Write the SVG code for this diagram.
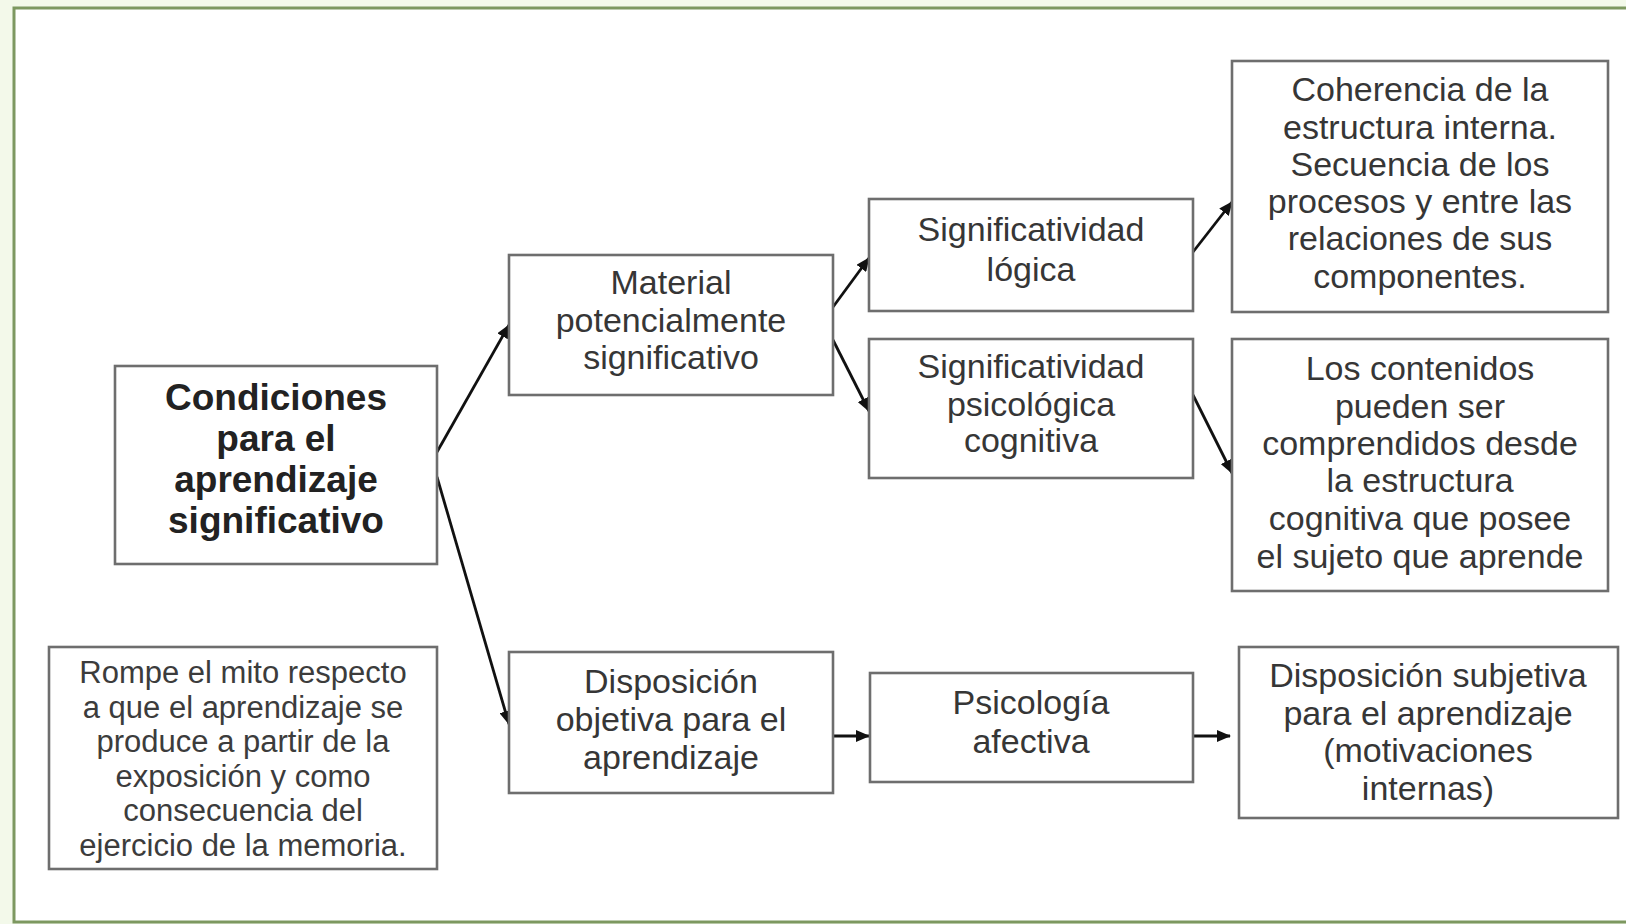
<svg xmlns="http://www.w3.org/2000/svg" width="1626" height="924" viewBox="0 0 1626 924">
<defs>
<style>
.box{fill:#fff;stroke:#6e6e6e;stroke-width:2.6}
.t{font-family:"Liberation Sans",Arial,sans-serif;font-size:34px;fill:#363636;text-anchor:middle}
.tb{font-family:"Liberation Sans",Arial,sans-serif;font-size:37px;font-weight:bold;fill:#222;text-anchor:middle}
.ts{font-family:"Liberation Sans",Arial,sans-serif;font-size:31px;fill:#3c3c3c;text-anchor:middle}
.c{stroke:#111;stroke-width:2.8;fill:none;marker-end:url(#ah)}
</style>
<marker id="ah" markerUnits="userSpaceOnUse" markerWidth="14" markerHeight="12" refX="13" refY="6" orient="auto">
<path d="M0,0 L14,6 L0,12 z" fill="#111"/>
</marker>
</defs>
<rect x="0" y="0" width="1626" height="924" fill="#f3f9ea"/>
<rect x="14" y="8" width="1630" height="914" fill="#fff" stroke="#7d9860" stroke-width="3"/>

<g id="connectors">
<line class="c" x1="437" y1="452" x2="509" y2="325"/>
<line class="c" x1="437" y1="477" x2="509" y2="724"/>
<line class="c" x1="833" y1="307" x2="869" y2="258"/>
<line class="c" x1="833" y1="340" x2="869" y2="411"/>
<line class="c" x1="1193" y1="252" x2="1232" y2="202"/>
<line class="c" x1="1193" y1="395" x2="1232" y2="473"/>
<line class="c" x1="833" y1="736" x2="869" y2="736"/>
<line class="c" x1="1193" y1="736" x2="1230" y2="736"/>
</g>

<g id="condiciones">
<rect class="box" x="115" y="366" width="322" height="198"/>
<text class="tb" x="276" y="410">Condiciones</text>
<text class="tb" x="276" y="451">para el</text>
<text class="tb" x="276" y="492">aprendizaje</text>
<text class="tb" x="276" y="533">significativo</text>
</g>

<g id="rompe">
<rect class="box" x="49" y="647" width="388" height="222"/>
<text class="ts" x="243" y="683">Rompe el mito respecto</text>
<text class="ts" x="243" y="717.5">a que el aprendizaje se</text>
<text class="ts" x="243" y="752">produce a partir de la</text>
<text class="ts" x="243" y="786.5">exposición y como</text>
<text class="ts" x="243" y="821">consecuencia del</text>
<text class="ts" x="243" y="855.5">ejercicio de la memoria.</text>
</g>

<g id="material">
<rect class="box" x="509" y="255" width="324" height="140"/>
<text class="t" x="671" y="294">Material</text>
<text class="t" x="671" y="332">potencialmente</text>
<text class="t" x="671" y="369">significativo</text>
</g>

<g id="sig-logica">
<rect class="box" x="869" y="199" width="324" height="112"/>
<text class="t" x="1031" y="241">Significatividad</text>
<text class="t" x="1031" y="281">lógica</text>
</g>

<g id="sig-psicologica">
<rect class="box" x="869" y="339" width="324" height="139"/>
<text class="t" x="1031" y="378">Significatividad</text>
<text class="t" x="1031" y="416">psicológica</text>
<text class="t" x="1031" y="452">cognitiva</text>
</g>

<g id="coherencia">
<rect class="box" x="1232" y="61" width="376" height="251"/>
<text class="t" x="1420" y="101">Coherencia de la</text>
<text class="t" x="1420" y="139">estructura interna.</text>
<text class="t" x="1420" y="176">Secuencia de los</text>
<text class="t" x="1420" y="213">procesos y entre las</text>
<text class="t" x="1420" y="250">relaciones de sus</text>
<text class="t" x="1420" y="288">componentes.</text>
</g>

<g id="contenidos">
<rect class="box" x="1232" y="339" width="376" height="252"/>
<text class="t" x="1420" y="380">Los contenidos</text>
<text class="t" x="1420" y="418">pueden ser</text>
<text class="t" x="1420" y="455">comprendidos desde</text>
<text class="t" x="1420" y="492">la estructura</text>
<text class="t" x="1420" y="530">cognitiva que posee</text>
<text class="t" x="1420" y="568">el sujeto que aprende</text>
</g>

<g id="disp-objetiva">
<rect class="box" x="509" y="652" width="324" height="141"/>
<text class="t" x="671" y="693">Disposición</text>
<text class="t" x="671" y="731">objetiva para el</text>
<text class="t" x="671" y="769">aprendizaje</text>
</g>

<g id="psicologia">
<rect class="box" x="870" y="673" width="323" height="109"/>
<text class="t" x="1031" y="714">Psicología</text>
<text class="t" x="1031" y="753">afectiva</text>
</g>

<g id="disp-subjetiva">
<rect class="box" x="1239" y="647" width="379" height="171"/>
<text class="t" x="1428" y="687">Disposición subjetiva</text>
<text class="t" x="1428" y="724.5">para el aprendizaje</text>
<text class="t" x="1428" y="762">(motivaciones</text>
<text class="t" x="1428" y="799.5">internas)</text>
</g>
</svg>
